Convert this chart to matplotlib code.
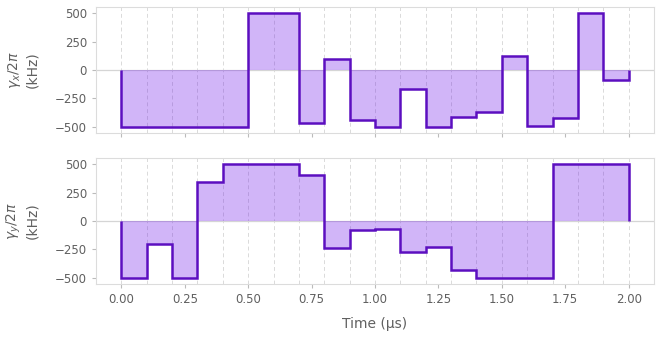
import numpy as np
import matplotlib
matplotlib.use("Agg")
import matplotlib.pyplot as plt

# segment boundaries (µs)
edges = np.round(np.arange(0, 2.0001, 0.1), 2)

# gamma_x / 2pi (kHz), one value per 0.1 µs segment
gamma_x = [-500, -500, -500, -500, -500, 500, 500, -465, 100, -445,
           -500, -167, -500, -410, -366, 125, -490, -427, 500, -85]
# gamma_y / 2pi (kHz)
gamma_y = [-500, -200, -500, 347, 500, 500, 500, 405, -235, -82,
           -68, -271, -229, -429, -500, -500, -500, 500, 500, 500]

ylabels = [r"$\gamma_x/2\pi$" + "\n(kHz)", r"$\gamma_y/2\pi$" + "\n(kHz)"]
xticks = [0.0, 0.25, 0.5, 0.75, 1.0, 1.25, 1.5, 1.75, 2.0]
yticks = [-500, -250, 0, 250, 500]

line_color = "#5c0fc0"
fill_color = "#680CE9"
text_color = "#606060"
spine_color = "#dcdcdc"

fig = plt.figure(figsize=(6.61, 3.4), dpi=100)
ax1 = fig.add_axes([0.1452, 0.609, 0.8442, 0.370])
ax2 = fig.add_axes([0.1452, 0.165, 0.8442, 0.370])

for ax, vals, lab in [(ax1, gamma_x, ylabels[0]), (ax2, gamma_y, ylabels[1])]:
    for e in edges:
        ax.axvline(e, color="#dadada", lw=0.7, ls=(0, (4, 3)), zorder=0)
    ax.axhline(0, color="#d5d5d5", lw=0.9, zorder=0)
    ax.stairs(vals, edges, baseline=0, fill=True, color=fill_color, alpha=0.3, lw=0, zorder=1)
    ax.stairs(vals, edges, baseline=0, fill=False, color=line_color, lw=1.8, zorder=2)
    ax.set_xlim(-0.1, 2.1)
    ax.set_ylim(-555, 555)
    ax.set_xticks(xticks)
    ax.set_yticks(yticks)
    ax.set_ylabel(lab, fontsize=10, color=text_color, labelpad=11)
    ax.tick_params(colors=text_color, labelsize=8.5, length=3, width=0.8, color="#bbbbbb")
    for s in ax.spines.values():
        s.set_color(spine_color)
        s.set_linewidth(0.8)

ax1.tick_params(labelbottom=False)
ax2.set_xlabel("Time (µs)", fontsize=10, color=text_color, labelpad=8)

fig.savefig("out.png", dpi=100)
